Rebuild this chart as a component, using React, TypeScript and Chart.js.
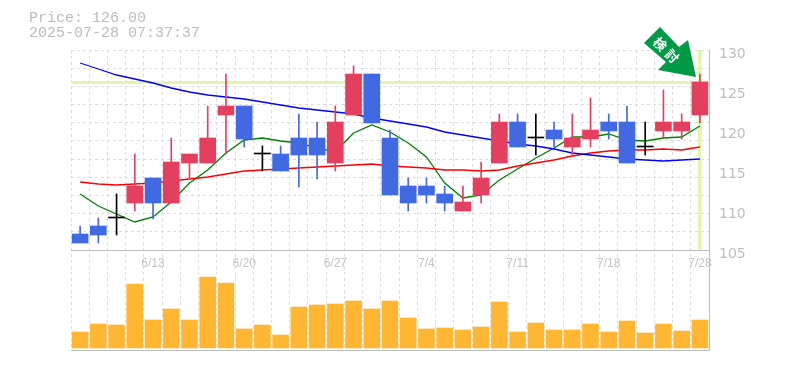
import React, { useEffect, useRef } from "react";
import { Chart, registerables } from "chart.js";

Chart.register(...registerables);

const dates = ["6/9","6/10","6/11","6/12","6/13","6/16","6/17","6/18","6/19","6/20","6/23","6/24","6/25","6/26","6/27","6/30","7/1","7/2","7/3","7/4","7/7","7/8","7/9","7/10","7/11","7/14","7/15","7/16","7/17","7/18","7/22","7/23","7/24","7/25","7/28"];
const labeledDates = ["6/13","6/20","6/27","7/4","7/11","7/18","7/28"];
const opens = [107,108,109,110.875,114,110.875,115.875,115.875,121.875,123,117,117,119,119,115.875,121.875,127,119,113,113,112,109.875,111.875,115.875,121,119,120,117.875,118.875,121,121,117.875,119.875,119.875,121.875];
const closes = [105.875,106.875,109,113,110.875,116,117,119,123,118.875,117,114.875,116.875,116.875,121,127,120.875,111.875,110.875,111.875,110.875,111,114,121,117.875,119,118.875,119,120,119.875,115.875,117.875,121,121,126];
const highs = [108,109,112,117,114,119,117,123,127,123,118,118,122,121,123,128,127,120,114,114,113,113,116,122,122,122,121,122,124,122,123,121,125,122,127];
const lows = [105.875,105.875,106.875,109.875,108.875,110.875,113.875,115.875,117,117.875,114.875,114.875,112.875,113.875,114.875,121.875,120.875,111.875,109.875,110.875,109.875,109.875,110.875,115.875,117.875,116.875,117.875,116.875,117.875,118.875,115.875,116.875,119,118.875,120.875];
const volumes = [16,24,23,64,28,39,28,71,65,19,23,13,41,43,44,47,39,47,30,19,20,18,21,46,16,25,18,18,24,16,27,15,24,17,28];
const maGreen = [112,110.5,109.5,108.5,109.125,111,113.375,115,117.125,118.75,119,118.625,118.375,117.75,117.25,119.625,120.625,119.75,118.375,116.625,113.375,111.5,111.875,113.75,115.125,116.5,117.75,119.125,119.125,119.5,118.75,118.625,119,119.125,120.5];
const maRed = [113.5,113.25,113.125,113.25,113.375,113.625,113.875,114.125,114.5,114.875,115,115.125,115.25,115.375,115.5,115.625,115.75,115.5,115.375,115.25,115,115,114.875,115,115.5,115.875,116.25,116.75,117.125,117.375,117.5,117.5,117.625,117.5,117.875];
const maBlue = [128.375,127.625,126.875,126.375,125.875,125.25,124.75,124.375,124.125,123.875,123.5,123.125,122.75,122.5,122.25,122,121.5,121.125,120.75,120.375,119.75,119.375,119,118.625,118.25,118,117.625,117.125,116.875,116.625,116.375,116.25,116.125,116.25,116.375];
const priceTicks = [105,110,115,120,125,130];
const currentPrice = 126;
const priceText = "Price: 126.00";
const timeText = "2025-07-28 07:37:37";
const badgeText = ["検", "討"];

const UP = "#e34060";
const DOWN = "#4169e1";
const FLAT = "#000000";
const HILITE = "#e3f5ab";
const AXIS = "#bdbdbd";
const GRID = "#dcdcdc";

const candleColors = opens.map((o, i) => (closes[i] > o ? UP : closes[i] < o ? DOWN : FLAT));

const badgePlugin = {
  id: "badge",
  afterDatasetsDraw(chart: any) {
    const c = chart.ctx;
    c.save();
    c.fillStyle = "#009944";
    c.beginPath();
    const pts = [[660, 27], [679, 47], [688, 40], [696, 77], [658, 70], [666, 62], [644, 43]];
    pts.forEach((p, i) => (i ? c.lineTo(p[0], p[1]) : c.moveTo(p[0], p[1])));
    c.closePath();
    c.fill();
    c.fillStyle = "#ffffff";
    c.font = "bold 13px 'Noto Sans CJK JP'";
    c.textAlign = "center";
    c.textBaseline = "middle";
    [[660, 44], [672, 56]].forEach((p, i) => {
      c.save();
      c.translate(p[0], p[1]);
      c.rotate(Math.PI / 4);
      c.fillText(badgeText[i], 0, 0);
      c.restore();
    });
    c.restore();
  },
};

export default function App() {
  const ref = useRef<HTMLCanvasElement>(null);
  useEffect(() => {
    const chart = new Chart(ref.current!, {
      data: {
        labels: dates,
        datasets: [
          { type: "bar", yAxisID: "y", order: 1, grouped: false, barThickness: 16, minBarLength: 1,
            data: opens.map((o, i) => [o, closes[i]]), backgroundColor: candleColors },
          { type: "bar", yAxisID: "y", order: 2, grouped: false, barThickness: 1,
            data: lows.map((l, i) => [l, highs[i]]), backgroundColor: candleColors },
          { type: "line", yAxisID: "y", order: 3, data: maBlue, borderColor: "#0000ff", borderWidth: 1.3, pointRadius: 0, tension: 0 },
          { type: "line", yAxisID: "y", order: 3, data: maRed, borderColor: "#ff0000", borderWidth: 1.3, pointRadius: 0, tension: 0 },
          { type: "line", yAxisID: "y", order: 3, data: maGreen, borderColor: "#008000", borderWidth: 1.3, pointRadius: 0, tension: 0 },
          { type: "bar", yAxisID: "y", order: 9, grouped: false, barThickness: 3,
            data: dates.map((_, i) => (i === dates.length - 1 ? [105, 130] : null)), backgroundColor: HILITE },
          { type: "bar", yAxisID: "v", order: 1, grouped: false, barThickness: 16, data: volumes, backgroundColor: "#ffb733" },
        ] as any,
      },
      options: {
        animation: false,
        responsive: false,
        layout: { padding: { left: 71, top: 50, right: 0, bottom: 20 } },
        plugins: { legend: { display: false }, tooltip: { enabled: false } },
        scales: {
          x: {
            type: "category",
            position: { y: 105 } as any,
            offset: true,
            grid: { offset: true, color: GRID, drawTicks: false, lineWidth: 1 },
            border: { color: AXIS, dash: [3, 3], width: 1 },
            ticks: {
              autoSkip: false, maxRotation: 0, padding: 6, color: "#c4c4c4",
              font: { family: "'Liberation Sans'", size: 12 },
              callback(this: any, v: any) {
                const l = this.getLabelForValue(v);
                return labeledDates.includes(l) ? l : "";
              },
            },
          },
          g: {
            type: "linear",
            position: "left",
            reverse: true,
            min: 0,
            max: 16.5,
            grid: {
              drawTicks: false,
              color: (c: any) => (c.tick.value <= 11 ? GRID : "rgba(0,0,0,0)"),
            },
            border: { display: false, dash: [3, 3] },
            ticks: { display: false, stepSize: 1 },
          },
          y: {
            type: "linear",
            position: "right",
            stack: "panes",
            stackWeight: 200,
            min: 105,
            max: 130,
            afterBuildTicks(s: any) {
              s.ticks = [...priceTicks, currentPrice].map((value) => ({ value }));
            },
            afterFit(s: any) { s.width = 76; },
            grid: {
              drawTicks: false,
              color: (c: any) => (c.tick.value === currentPrice ? HILITE : "rgba(0,0,0,0)"),
              lineWidth: (c: any) => (c.tick.value === currentPrice ? 3 : 0),
            },
            border: { color: AXIS, width: 1 },
            ticks: {
              autoSkip: false, padding: 10, labelOffset: 4, color: "#bdbdbd",
              font: { family: "'DejaVu Sans'", size: 14 },
              callback: (v: any) => (priceTicks.includes(v) ? String(v) : ""),
            },
          },
          v: {
            type: "linear",
            position: "right",
            stack: "panes",
            stackWeight: 100,
            min: -2,
            max: 98,
            afterBuildTicks(s: any) { s.ticks = [{ value: -2 }]; },
            afterFit(s: any) { s.width = 76; },
            grid: { drawTicks: false, color: AXIS, lineWidth: 1 },
            border: { color: AXIS, width: 1 },
            ticks: { callback: () => "" },
          },
        },
      } as any,
      plugins: [badgePlugin],
    } as any);
    return () => chart.destroy();
  }, []);

  const line: React.CSSProperties = {
    position: "absolute", left: 29, font: "15px 'Liberation Mono'", color: "#bdbdbd", lineHeight: "15px", whiteSpace: "pre",
  };
  return (
    <div style={{ position: "absolute", left: 0, top: 0, width: 785, height: 370, background: "#fff" }}>
      <canvas ref={ref} width={785} height={370} style={{ display: "block" }} />
      <div style={{ ...line, top: 11 }}>{priceText}</div>
      <div style={{ ...line, top: 26 }}>{timeText}</div>
    </div>
  );
}
